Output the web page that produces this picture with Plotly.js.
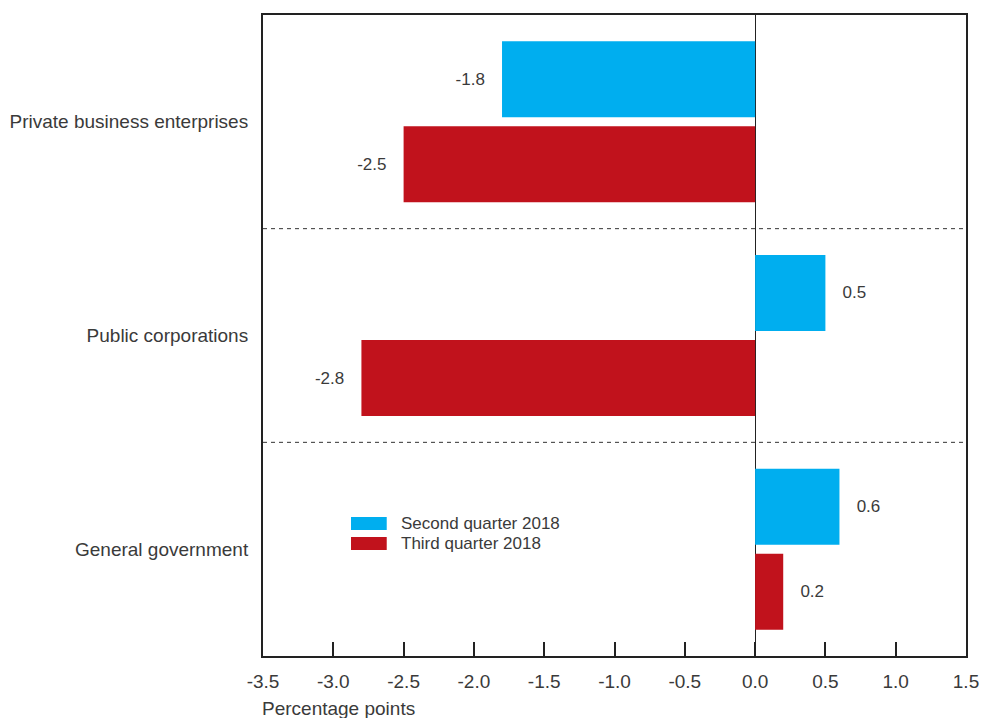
<!DOCTYPE html>
<html>
<head>
<meta charset="utf-8">
<script src="https://cdn.plot.ly/plotly-3.0.1.min.js"></script>
<style>html,body{margin:0;padding:0;background:#fff;}#chart{width:981px;height:718px;}</style>
</head>
<body>
<div id="chart"></div>
<script>
const categories = ["Private business enterprises", "Public corporations", "General government"];
const seriesNames = ["Second quarter 2018", "Third quarter 2018"];
const secondQuarter = [-1.8, 0.5, 0.6];
const thirdQuarter = [-2.5, -2.8, 0.2];
const xTicks = [-3.5, -3.0, -2.5, -2.0, -1.5, -1.0, -0.5, 0.0, 0.5, 1.0, 1.5];
const colors = ["#00AEEF", "#C1121C"];

const pad = "\u00a0\u00a0\u00a0";
function labels(vals) {
  return vals.map(v => v < 0 ? v.toFixed(1) + pad : pad + v.toFixed(1));
}

const font = "Liberation Sans, Arial, sans-serif";
const textColor = "#3a3a3a";

const traces = [secondQuarter, thirdQuarter].map((vals, i) => ({
  type: "bar",
  orientation: "h",
  name: seriesNames[i],
  x: vals,
  y: categories,
  marker: {color: colors[i], line: {width: 0}},
  text: labels(vals),
  textposition: "outside",
  constraintext: "none",
  cliponaxis: false,
  textfont: {family: font, size: 17, color: textColor},
  hoverinfo: "x+name"
}));

const shapes = [0.5, 1.5].map(yv => ({
  type: "line", xref: "paper", yref: "y", x0: 0, x1: 1, y0: yv, y1: yv,
  line: {color: "#333", width: 1, dash: "4px,4px"}
}));
const annotations = [{
  text: "Percentage points", xref: "paper", yref: "paper", x: -0.004, y: 0,
  xanchor: "left", yanchor: "middle", yshift: -52, showarrow: false,
  font: {family: font, size: 19, color: textColor}
}];
seriesNames.forEach((n, i) => {
  const yTop = [0.2168, 0.1856][i], yBot = [0.1966, 0.1654][i];
  shapes.push({type: "rect", xref: "paper", yref: "paper", x0: 0.1252, x1: 0.176, y0: yBot, y1: yTop,
    fillcolor: colors[i], line: {width: 0}});
  annotations.push({text: n, xref: "paper", yref: "paper", x: 0.1935, y: (yTop + yBot) / 2,
    xanchor: "left", yanchor: "middle", showarrow: false,
    font: {family: font, size: 17, color: textColor}});
});

const layout = {
  width: 981, height: 718,
  margin: {l: 263, r: 15, t: 15, b: 62},
  paper_bgcolor: "#fff", plot_bgcolor: "#fff",
  barmode: "group", bargap: 0.204, bargroupgap: 0.106,
  showlegend: false,
  font: {family: font, size: 17, color: textColor},
  xaxis: {
    range: [-3.5, 1.5], tickvals: xTicks, ticktext: xTicks.map(v => v.toFixed(1)),
    ticks: "inside", ticklen: 14, tickwidth: 2, tickcolor: "#222",
    showline: true, linecolor: "#222", linewidth: 2, mirror: true,
    showgrid: false, zeroline: true, zerolinecolor: "#222", zerolinewidth: 1,
    tickfont: {family: font, size: 19, color: textColor}, ticklabelstandoff: 7
  },
  yaxis: {
    autorange: "reversed", type: "category",
    showline: true, linecolor: "#222", linewidth: 2, mirror: true,
    ticks: "", showgrid: false, zeroline: false,
    tickfont: {family: font, size: 19, color: textColor}, ticklabelstandoff: 9
  },
  shapes: shapes,
  annotations: annotations
};

Plotly.newPlot("chart", traces, layout, {displayModeBar: false, staticPlot: true});
</script>
</body>
</html>
